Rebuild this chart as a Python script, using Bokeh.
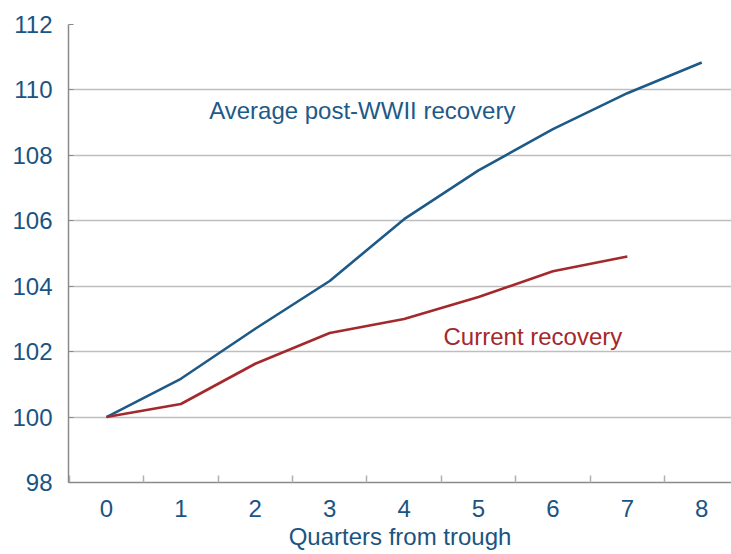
from bokeh.plotting import figure
from bokeh.models import Range1d, FixedTicker
from bokeh.core.properties import value
from bokeh.embed import file_html
from bokeh.resources import INLINE

quarters = [0, 1, 2, 3, 4, 5, 6, 7, 8]
average_postwar = [100.0, 101.17, 102.7, 104.16, 106.05, 107.54, 108.8, 109.9, 110.84]
current_quarters = [0, 1, 2, 3, 4, 5, 6, 7]
current_recovery = [100.0, 100.4, 101.63, 102.57, 103.0, 103.67, 104.46, 104.91]
y_ticks = [98, 100, 102, 104, 106, 108, 110, 112]
x_ticks = quarters
x_boundaries = [-0.5, 0.5, 1.5, 2.5, 3.5, 4.5, 5.5, 6.5, 7.5]

label_texts = ["Average post-WWII recovery", "Current recovery"]
label_x = [1.38, 4.53]
label_y = [109.38, 102.47]

BLUE = "#1D5A88"
RED = "#A3292D"
TEXT = "#1A5482"
FONT = "Liberation Sans"

p = figure(width=731, height=554, output_backend="svg", toolbar_location=None,
           x_range=Range1d(-0.51, 8.4), y_range=Range1d(98, 112),
           min_border_left=68, min_border_top=24, min_border_right=0,
           min_border_bottom=72)
p.outline_line_color = None
p.background_fill_color = "white"
p.border_fill_color = "white"

p.line(quarters, average_postwar, line_color=BLUE, line_width=2.6)
p.line(current_quarters, current_recovery, line_color=RED, line_width=2.6)

p.text(x=[label_x[0]], y=[label_y[0]], text=[label_texts[0]], text_color=BLUE,
       text_font=value(FONT), text_font_size="24px", text_baseline="alphabetic",
       text_align="left")
p.text(x=[label_x[1]], y=[label_y[1]], text=[label_texts[1]], text_color=RED,
       text_font=value(FONT), text_font_size="24px", text_baseline="alphabetic",
       text_align="left")

# y axis
p.yaxis.ticker = FixedTicker(ticks=y_ticks)
p.yaxis.axis_line_color = "#8A8A8A"
p.yaxis.axis_line_width = 1.5
p.yaxis.major_tick_in = 5
p.yaxis.major_tick_out = 0
p.yaxis.major_tick_line_color = "#8A8A8A"
p.yaxis.minor_tick_line_color = None
p.yaxis.major_label_standoff = 16
p.yaxis.major_label_text_font = FONT
p.yaxis.major_label_text_font_size = "24px"
p.yaxis.major_label_text_color = TEXT

# x axis
p.xaxis.ticker = FixedTicker(ticks=x_ticks, minor_ticks=x_boundaries)
p.xaxis.axis_line_color = "#8A8A8A"
p.xaxis.axis_line_width = 1.5
p.xaxis.major_tick_line_color = None
p.xaxis.minor_tick_in = 7
p.xaxis.minor_tick_out = 0
p.xaxis.minor_tick_line_color = "#B0B0B0"
p.xaxis.minor_tick_line_width = 1.5
p.xaxis.major_label_standoff = 11
p.xaxis.major_label_text_font = FONT
p.xaxis.major_label_text_font_size = "24px"
p.xaxis.major_label_text_color = TEXT
p.xaxis.axis_label = "Quarters from trough"
p.xaxis.axis_label_standoff = 3
p.xaxis.axis_label_text_font = FONT
p.xaxis.axis_label_text_font_size = "24px"
p.xaxis.axis_label_text_font_style = "normal"
p.xaxis.axis_label_text_color = TEXT

# grid
p.xgrid.grid_line_color = None
p.ygrid.ticker = FixedTicker(ticks=y_ticks[1:])
p.ygrid.grid_line_color = "#BEBEBE"
p.ygrid.grid_line_width = 1.5

open("out.html", "w").write(file_html(p, INLINE))
